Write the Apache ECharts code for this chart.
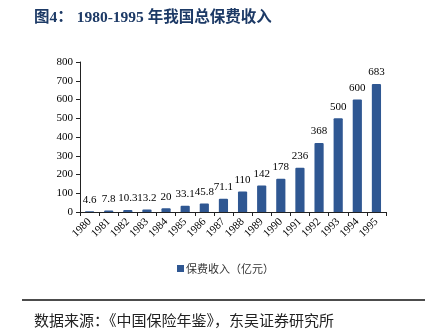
<!DOCTYPE html>
<html>
<head>
<meta charset="utf-8">
<style>
  html, body { margin: 0; padding: 0; background: #fff; }
  #chart { width: 440px; height: 330px; }
</style>
<script src="https://cdn.jsdelivr.net/npm/echarts@6/dist/echarts.min.js"></script>
</head>
<body>
<div id="chart"></div>
<script>
// Total premium income, 1980-1995 (100 million yuan)
const years = ['1980','1981','1982','1983','1984','1985','1986','1987','1988','1989','1990','1991','1992','1993','1994','1995'];
const premium = [4.6, 7.8, 10.3, 13.2, 20, 33.1, 45.8, 71.1, 110, 142, 178, 236, 368, 500, 600, 683];
const yTicks = { min: 0, max: 800, interval: 100 };

const serif = '"Liberation Serif", "Times New Roman", "Noto Sans CJK SC", serif';
const cjk = '"Noto Sans CJK SC", sans-serif';
const barColor = '#2f5792';

const chart = echarts.init(document.getElementById('chart'), null, { renderer: 'canvas' });
chart.setOption({
  animation: false,
  backgroundColor: '#fff',
  title: [
    {
      text: '图4： 1980-1995 年我国总保费收入',
      left: 29, top: 5,
      textStyle: { fontFamily: '"Liberation Serif", "Noto Sans CJK SC", serif', fontWeight: 'bold', fontSize: 15.5, color: '#1d3a66' }
    },
    {
      text: '数据来源：《中国保险年鉴》，东吴证券研究所',
      left: 29, top: 308,
      textStyle: { fontFamily: cjk, fontWeight: 'normal', fontSize: 15, color: '#222' }
    }
  ],
  graphic: [
    { type: 'line', shape: { x1: 22, y1: 300, x2: 425, y2: 300 }, style: { stroke: '#111', lineWidth: 1.5 } }
  ],
  grid: { left: 80, right: 54, top: 62, bottom: 118 },
  legend: {
    data: ['保费收入（亿元）'],
    left: 172, top: 258,
    icon: 'rect', itemWidth: 7, itemHeight: 7, itemGap: 4,
    textStyle: { fontFamily: cjk, fontSize: 11, color: '#333', padding: [0, 0, 0, -3] }
  },
  xAxis: {
    type: 'category',
    data: years,
    boundaryGap: true,
    axisLine: { lineStyle: { color: '#222', width: 1 } },
    axisTick: { show: true, alignWithLabel: false, length: 4, lineStyle: { color: '#222' } },
    axisLabel: { rotate: 45, interval: 0, margin: 8, fontFamily: serif, fontSize: 11, color: '#000' }
  },
  yAxis: {
    type: 'value',
    min: yTicks.min, max: yTicks.max, interval: yTicks.interval,
    axisLine: { show: true, lineStyle: { color: '#222', width: 1 } },
    axisTick: { show: true, length: 4, lineStyle: { color: '#222' } },
    splitLine: { show: false },
    axisLabel: { margin: 7, fontFamily: serif, fontSize: 11, color: '#000' }
  },
  series: [{
    name: '保费收入（亿元）',
    type: 'bar',
    data: premium,
    barWidth: '48%',
    itemStyle: { color: barColor, borderRadius: [1, 1, 0, 0] },
    label: {
      show: true, position: 'top', distance: 6,
      fontFamily: serif, fontSize: 11, color: '#000'
    }
  }]
});
</script>
</body>
</html>
